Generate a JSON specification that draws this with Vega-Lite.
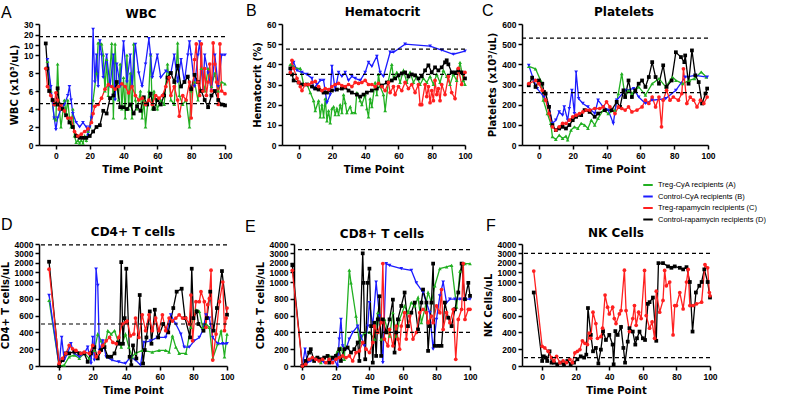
{
"$schema":"https://vega.github.io/schema/vega-lite/v6.json",
"background":"white",
"padding":{"left":0,"top":3,"right":0,"bottom":0},
"config":{
 "view":{"stroke":null},
 "font":"Liberation Sans",
 "axis":{"grid":false,"labelOverlap":false,"tickCount":20,"domainColor":"#000","domainWidth":1.5,"tickColor":"#000","tickWidth":1.5,"tickSize":4,"labelFont":"Liberation Sans","labelFontWeight":"bold","labelFontSize":8.5,"labelColor":"#000","titleFont":"DejaVu Sans","titleFontWeight":"bold","titleFontSize":10,"titleColor":"#000"},
 "axisX":{"titlePadding":5,"labelFlush":false},
 "axisY":{"titlePadding":4,"labelPadding":2},
 "title":{"font":"DejaVu Sans","fontSize":12,"fontWeight":"bold","color":"#000","anchor":"middle","frame":"group"},
 "legend":{"orient":"none","legendX":603,"legendY":155,"title":null,"symbolType":"stroke","symbolStrokeWidth":2,"symbolSize":90,"labelFont":"Liberation Sans","labelFontSize":7.5,"labelColor":"#000","rowPadding":1.5}
},
"datasets":{
"wbc":[
{"s":"A","x":-5,"y":9.3},{"s":"A","x":-3,"y":6},{"s":"A","x":-1,"y":3},{"s":"A","x":0,"y":2.8},{"s":"A","x":1,"y":9},{"s":"A","x":2,"y":4},{"s":"A","x":3,"y":2},{"s":"A","x":5,"y":5},{"s":"A","x":6,"y":3.5},{"s":"A","x":7,"y":5},{"s":"A","x":8,"y":3},{"s":"A","x":9,"y":2},{"s":"A","x":10,"y":4},{"s":"A","x":11,"y":1},{"s":"A","x":12,"y":0.3},{"s":"A","x":13,"y":0.5},{"s":"A","x":14,"y":0.2},{"s":"A","x":15,"y":0.5},{"s":"A","x":16,"y":0.2},{"s":"A","x":17,"y":1},{"s":"A","x":18,"y":0.5},{"s":"A","x":19,"y":1.5},{"s":"A","x":20,"y":2},{"s":"A","x":22,"y":5},{"s":"A","x":24,"y":8},{"s":"A","x":25,"y":12},{"s":"A","x":27,"y":11},{"s":"A","x":28,"y":10},{"s":"A","x":29,"y":6},{"s":"A","x":30,"y":9.5},{"s":"A","x":31,"y":5.5},{"s":"A","x":33,"y":11.5},{"s":"A","x":34,"y":3},{"s":"A","x":35,"y":11},{"s":"A","x":36,"y":7},{"s":"A","x":37,"y":5},{"s":"A","x":38,"y":9},{"s":"A","x":39,"y":4},{"s":"A","x":40,"y":7.5},{"s":"A","x":41,"y":3},{"s":"A","x":42,"y":10},{"s":"A","x":43,"y":4},{"s":"A","x":44,"y":8},{"s":"A","x":45,"y":3},{"s":"A","x":46,"y":11},{"s":"A","x":47,"y":5},{"s":"A","x":48,"y":4},{"s":"A","x":50,"y":6},{"s":"A","x":51,"y":3},{"s":"A","x":52,"y":5},{"s":"A","x":53,"y":2},{"s":"A","x":55,"y":6},{"s":"A","x":56,"y":10},{"s":"A","x":57,"y":4},{"s":"A","x":58,"y":6},{"s":"A","x":60,"y":4},{"s":"A","x":62,"y":5},{"s":"A","x":64,"y":4.5},{"s":"A","x":66,"y":9},{"s":"A","x":68,"y":5},{"s":"A","x":70,"y":4.5},{"s":"A","x":72,"y":12},{"s":"A","x":73,"y":5.5},{"s":"A","x":75,"y":4.5},{"s":"A","x":77,"y":5},{"s":"A","x":79,"y":2},{"s":"A","x":80,"y":6},{"s":"A","x":82,"y":7},{"s":"A","x":84,"y":5},{"s":"A","x":86,"y":8.5},{"s":"A","x":88,"y":6},{"s":"A","x":90,"y":8.5},{"s":"A","x":92,"y":6.5},{"s":"A","x":94,"y":8},{"s":"A","x":96,"y":6},{"s":"A","x":98,"y":7},{"s":"A","x":100,"y":6.8},
{"s":"B","x":-5,"y":9.5},{"s":"B","x":-3,"y":6.5},{"s":"B","x":-1,"y":3},{"s":"B","x":0,"y":1.7},{"s":"B","x":1,"y":3},{"s":"B","x":3,"y":4},{"s":"B","x":5,"y":4.5},{"s":"B","x":7,"y":5.5},{"s":"B","x":8,"y":6.5},{"s":"B","x":9,"y":5},{"s":"B","x":10,"y":3.5},{"s":"B","x":12,"y":2.5},{"s":"B","x":14,"y":2},{"s":"B","x":16,"y":2.5},{"s":"B","x":18,"y":2},{"s":"B","x":19,"y":1},{"s":"B","x":20,"y":2},{"s":"B","x":21,"y":3},{"s":"B","x":22,"y":25},{"s":"B","x":23,"y":7},{"s":"B","x":24,"y":10},{"s":"B","x":25,"y":6.5},{"s":"B","x":26,"y":14},{"s":"B","x":27,"y":10},{"s":"B","x":28,"y":7.5},{"s":"B","x":30,"y":10},{"s":"B","x":32,"y":6.5},{"s":"B","x":34,"y":10},{"s":"B","x":35,"y":5},{"s":"B","x":36,"y":9},{"s":"B","x":38,"y":6.5},{"s":"B","x":40,"y":13},{"s":"B","x":42,"y":7},{"s":"B","x":44,"y":10},{"s":"B","x":45,"y":6.5},{"s":"B","x":47,"y":10.5},{"s":"B","x":49,"y":8},{"s":"B","x":51,"y":6.5},{"s":"B","x":53,"y":9},{"s":"B","x":55,"y":16},{"s":"B","x":56,"y":10},{"s":"B","x":57,"y":7.5},{"s":"B","x":60,"y":10},{"s":"B","x":62,"y":7.5},{"s":"B","x":65,"y":8.2},{"s":"B","x":68,"y":8},{"s":"B","x":70,"y":10},{"s":"B","x":72,"y":7},{"s":"B","x":74,"y":9.5},{"s":"B","x":76,"y":7},{"s":"B","x":78,"y":10},{"s":"B","x":79,"y":13},{"s":"B","x":80,"y":10},{"s":"B","x":82,"y":6.5},{"s":"B","x":84,"y":10},{"s":"B","x":85,"y":13},{"s":"B","x":87,"y":6},{"s":"B","x":88,"y":10},{"s":"B","x":90,"y":8},{"s":"B","x":92,"y":6},{"s":"B","x":94,"y":10},{"s":"B","x":96,"y":6.5},{"s":"B","x":98,"y":10},{"s":"B","x":100,"y":10},
{"s":"D","x":-6,"y":11.5},{"s":"D","x":-5,"y":8.5},{"s":"D","x":-4,"y":6},{"s":"D","x":-2,"y":5},{"s":"D","x":0,"y":4.5},{"s":"D","x":1,"y":6.3},{"s":"D","x":2,"y":4.5},{"s":"D","x":4,"y":4},{"s":"D","x":6,"y":3.3},{"s":"D","x":8,"y":2.5},{"s":"D","x":10,"y":2},{"s":"D","x":12,"y":1},{"s":"D","x":14,"y":0.8},{"s":"D","x":16,"y":0.8},{"s":"D","x":18,"y":0.8},{"s":"D","x":20,"y":1},{"s":"D","x":22,"y":1.5},{"s":"D","x":24,"y":2},{"s":"D","x":26,"y":2.2},{"s":"D","x":28,"y":3.8},{"s":"D","x":30,"y":3.5},{"s":"D","x":32,"y":5.2},{"s":"D","x":34,"y":5.5},{"s":"D","x":36,"y":7},{"s":"D","x":38,"y":4.2},{"s":"D","x":40,"y":4.2},{"s":"D","x":42,"y":4},{"s":"D","x":44,"y":4.5},{"s":"D","x":46,"y":3.5},{"s":"D","x":48,"y":4.3},{"s":"D","x":50,"y":3.8},{"s":"D","x":52,"y":5.3},{"s":"D","x":54,"y":4.5},{"s":"D","x":56,"y":5.7},{"s":"D","x":58,"y":4},{"s":"D","x":60,"y":5},{"s":"D","x":62,"y":4.5},{"s":"D","x":64,"y":5.5},{"s":"D","x":66,"y":7.5},{"s":"D","x":68,"y":8},{"s":"D","x":70,"y":7},{"s":"D","x":72,"y":8.8},{"s":"D","x":74,"y":6.5},{"s":"D","x":76,"y":7},{"s":"D","x":78,"y":7.6},{"s":"D","x":80,"y":6.2},{"s":"D","x":82,"y":7.8},{"s":"D","x":84,"y":7},{"s":"D","x":86,"y":6},{"s":"D","x":88,"y":5},{"s":"D","x":90,"y":4.2},{"s":"D","x":92,"y":5.5},{"s":"D","x":94,"y":6},{"s":"D","x":96,"y":5},{"s":"D","x":98,"y":4.5},{"s":"D","x":100,"y":4.4},
{"s":"C","x":-6,"y":8.5},{"s":"C","x":-5,"y":6.5},{"s":"C","x":-3,"y":5.5},{"s":"C","x":-1,"y":4.5},{"s":"C","x":0,"y":5.8},{"s":"C","x":1,"y":5},{"s":"C","x":2,"y":4},{"s":"C","x":3,"y":4.5},{"s":"C","x":5,"y":3.8},{"s":"C","x":7,"y":3},{"s":"C","x":9,"y":3},{"s":"C","x":11,"y":1.5},{"s":"C","x":13,"y":1},{"s":"C","x":15,"y":1.2},{"s":"C","x":17,"y":1.5},{"s":"C","x":19,"y":1.8},{"s":"C","x":21,"y":2.5},{"s":"C","x":22,"y":3.5},{"s":"C","x":23,"y":4.3},{"s":"C","x":25,"y":4.5},{"s":"C","x":27,"y":5.2},{"s":"C","x":29,"y":6.2},{"s":"C","x":31,"y":6.7},{"s":"C","x":33,"y":6.5},{"s":"C","x":35,"y":6.2},{"s":"C","x":37,"y":6.5},{"s":"C","x":39,"y":6.8},{"s":"C","x":41,"y":6.5},{"s":"C","x":43,"y":5.8},{"s":"C","x":45,"y":6.5},{"s":"C","x":47,"y":5.5},{"s":"C","x":49,"y":5},{"s":"C","x":51,"y":5.2},{"s":"C","x":53,"y":4.5},{"s":"C","x":55,"y":5},{"s":"C","x":57,"y":4.5},{"s":"C","x":59,"y":5.5},{"s":"C","x":61,"y":5.2},{"s":"C","x":63,"y":5.5},{"s":"C","x":65,"y":6.5},{"s":"C","x":67,"y":7.5},{"s":"C","x":68,"y":5.5},{"s":"C","x":70,"y":6.5},{"s":"C","x":72,"y":5},{"s":"C","x":73,"y":3.2},{"s":"C","x":75,"y":5.5},{"s":"C","x":77,"y":5},{"s":"C","x":79,"y":7},{"s":"C","x":80,"y":3},{"s":"C","x":82,"y":9.5},{"s":"C","x":83,"y":11},{"s":"C","x":84,"y":7},{"s":"C","x":85,"y":5.5},{"s":"C","x":86,"y":11},{"s":"C","x":87,"y":6},{"s":"C","x":88,"y":8.5},{"s":"C","x":89,"y":5.5},{"s":"C","x":90,"y":7},{"s":"C","x":91,"y":9},{"s":"C","x":92,"y":6},{"s":"C","x":93,"y":12},{"s":"C","x":94,"y":9},{"s":"C","x":95,"y":7},{"s":"C","x":96,"y":4.5},{"s":"C","x":97,"y":11},{"s":"C","x":98,"y":6},{"s":"C","x":100,"y":5.7}
],
"hct":[
{"s":"A","x":-5,"y":40},{"s":"A","x":-3,"y":39},{"s":"A","x":-1,"y":38},{"s":"A","x":1,"y":38},{"s":"A","x":3,"y":30},{"s":"A","x":5,"y":30},{"s":"A","x":7,"y":26},{"s":"A","x":9,"y":22},{"s":"A","x":10,"y":17},{"s":"A","x":12,"y":22},{"s":"A","x":13,"y":14},{"s":"A","x":14,"y":20},{"s":"A","x":15,"y":14},{"s":"A","x":16,"y":23},{"s":"A","x":17,"y":12},{"s":"A","x":18,"y":17},{"s":"A","x":19,"y":11},{"s":"A","x":20,"y":18},{"s":"A","x":21,"y":19},{"s":"A","x":22,"y":15},{"s":"A","x":23,"y":18},{"s":"A","x":24,"y":15},{"s":"A","x":25,"y":20},{"s":"A","x":26,"y":16},{"s":"A","x":27,"y":25},{"s":"A","x":28,"y":21},{"s":"A","x":29,"y":16},{"s":"A","x":31,"y":19},{"s":"A","x":32,"y":16},{"s":"A","x":34,"y":16},{"s":"A","x":35,"y":26},{"s":"A","x":37,"y":22},{"s":"A","x":38,"y":20},{"s":"A","x":40,"y":25},{"s":"A","x":41,"y":18},{"s":"A","x":42,"y":14},{"s":"A","x":43,"y":23},{"s":"A","x":44,"y":19},{"s":"A","x":46,"y":31},{"s":"A","x":47,"y":25},{"s":"A","x":48,"y":35},{"s":"A","x":49,"y":29},{"s":"A","x":51,"y":25},{"s":"A","x":52,"y":17},{"s":"A","x":54,"y":32},{"s":"A","x":56,"y":40},{"s":"A","x":57,"y":33},{"s":"A","x":59,"y":36},{"s":"A","x":61,"y":31},{"s":"A","x":63,"y":37},{"s":"A","x":65,"y":31},{"s":"A","x":67,"y":36},{"s":"A","x":69,"y":31},{"s":"A","x":71,"y":34},{"s":"A","x":73,"y":30},{"s":"A","x":75,"y":33},{"s":"A","x":77,"y":31},{"s":"A","x":79,"y":34},{"s":"A","x":81,"y":30},{"s":"A","x":83,"y":35},{"s":"A","x":85,"y":31},{"s":"A","x":87,"y":37},{"s":"A","x":89,"y":34},{"s":"A","x":91,"y":30},{"s":"A","x":93,"y":35},{"s":"A","x":95,"y":32},{"s":"A","x":97,"y":41},{"s":"A","x":99,"y":32},{"s":"A","x":100,"y":30},
{"s":"B","x":-5,"y":37},{"s":"B","x":-3,"y":41},{"s":"B","x":-1,"y":37},{"s":"B","x":2,"y":36},{"s":"B","x":5,"y":35},{"s":"B","x":8,"y":33},{"s":"B","x":9,"y":28},{"s":"B","x":11,"y":30},{"s":"B","x":13,"y":32},{"s":"B","x":15,"y":32},{"s":"B","x":17,"y":21},{"s":"B","x":19,"y":25},{"s":"B","x":20,"y":39},{"s":"B","x":22,"y":27},{"s":"B","x":24,"y":36},{"s":"B","x":26,"y":34},{"s":"B","x":28,"y":36},{"s":"B","x":30,"y":32},{"s":"B","x":32,"y":34},{"s":"B","x":34,"y":33},{"s":"B","x":37,"y":32},{"s":"B","x":40,"y":36},{"s":"B","x":42,"y":41},{"s":"B","x":44,"y":39},{"s":"B","x":47,"y":44},{"s":"B","x":49,"y":36},{"s":"B","x":51,"y":34},{"s":"B","x":55,"y":46},{"s":"B","x":57,"y":46},{"s":"B","x":64,"y":50},{"s":"B","x":79,"y":49},{"s":"B","x":86,"y":47},{"s":"B","x":93,"y":45},{"s":"B","x":100,"y":46.5},
{"s":"D","x":-5,"y":38},{"s":"D","x":-4,"y":35},{"s":"D","x":-3,"y":32},{"s":"D","x":0,"y":31},{"s":"D","x":2,"y":30},{"s":"D","x":5,"y":30},{"s":"D","x":8,"y":29},{"s":"D","x":10,"y":28},{"s":"D","x":12,"y":27.5},{"s":"D","x":15,"y":26},{"s":"D","x":17,"y":26},{"s":"D","x":20,"y":27},{"s":"D","x":23,"y":27.5},{"s":"D","x":26,"y":28},{"s":"D","x":28,"y":28.5},{"s":"D","x":30,"y":27},{"s":"D","x":32,"y":26},{"s":"D","x":35,"y":25},{"s":"D","x":37,"y":24},{"s":"D","x":39,"y":25},{"s":"D","x":41,"y":26},{"s":"D","x":44,"y":27},{"s":"D","x":47,"y":28},{"s":"D","x":50,"y":29.5},{"s":"D","x":53,"y":31},{"s":"D","x":56,"y":32},{"s":"D","x":58,"y":33},{"s":"D","x":60,"y":34.5},{"s":"D","x":62,"y":35.5},{"s":"D","x":64,"y":36},{"s":"D","x":66,"y":34},{"s":"D","x":68,"y":35},{"s":"D","x":70,"y":34.5},{"s":"D","x":72,"y":33},{"s":"D","x":74,"y":34},{"s":"D","x":76,"y":37},{"s":"D","x":78,"y":39.5},{"s":"D","x":80,"y":36},{"s":"D","x":82,"y":38.5},{"s":"D","x":84,"y":37},{"s":"D","x":86,"y":38.5},{"s":"D","x":88,"y":41},{"s":"D","x":89,"y":42},{"s":"D","x":90,"y":40},{"s":"D","x":92,"y":36},{"s":"D","x":94,"y":36},{"s":"D","x":96,"y":37},{"s":"D","x":98,"y":36},{"s":"D","x":100,"y":33},
{"s":"C","x":-5,"y":36},{"s":"C","x":-4,"y":42},{"s":"C","x":-3,"y":38},{"s":"C","x":-1,"y":33},{"s":"C","x":0,"y":31},{"s":"C","x":1,"y":29},{"s":"C","x":2,"y":27},{"s":"C","x":4,"y":30},{"s":"C","x":6,"y":30},{"s":"C","x":8,"y":31},{"s":"C","x":10,"y":31.5},{"s":"C","x":12,"y":29},{"s":"C","x":14,"y":27},{"s":"C","x":16,"y":28},{"s":"C","x":18,"y":27.5},{"s":"C","x":20,"y":29},{"s":"C","x":22,"y":30},{"s":"C","x":24,"y":30.5},{"s":"C","x":26,"y":29.5},{"s":"C","x":28,"y":29},{"s":"C","x":30,"y":30},{"s":"C","x":32,"y":29},{"s":"C","x":34,"y":31},{"s":"C","x":36,"y":30.5},{"s":"C","x":38,"y":31},{"s":"C","x":40,"y":32},{"s":"C","x":42,"y":30},{"s":"C","x":44,"y":30},{"s":"C","x":46,"y":29},{"s":"C","x":48,"y":30.5},{"s":"C","x":50,"y":29},{"s":"C","x":52,"y":27},{"s":"C","x":54,"y":31},{"s":"C","x":55,"y":26},{"s":"C","x":57,"y":29},{"s":"C","x":58,"y":25},{"s":"C","x":60,"y":29},{"s":"C","x":62,"y":27},{"s":"C","x":64,"y":31},{"s":"C","x":66,"y":28},{"s":"C","x":68,"y":30},{"s":"C","x":70,"y":26},{"s":"C","x":72,"y":30},{"s":"C","x":73,"y":20},{"s":"C","x":74,"y":20},{"s":"C","x":76,"y":30},{"s":"C","x":77,"y":24},{"s":"C","x":78,"y":29},{"s":"C","x":79,"y":21},{"s":"C","x":80,"y":27},{"s":"C","x":81,"y":22},{"s":"C","x":82,"y":32},{"s":"C","x":83,"y":25},{"s":"C","x":84,"y":28},{"s":"C","x":85,"y":22},{"s":"C","x":86,"y":30},{"s":"C","x":88,"y":25},{"s":"C","x":90,"y":34},{"s":"C","x":92,"y":26},{"s":"C","x":94,"y":23},{"s":"C","x":96,"y":38},{"s":"C","x":98,"y":30},{"s":"C","x":100,"y":36}
],
"plt":[
{"s":"A","x":-6,"y":390},{"s":"A","x":-2,"y":378},{"s":"A","x":1,"y":320},{"s":"A","x":2.6,"y":222},{"s":"A","x":5,"y":156},{"s":"A","x":7,"y":107},{"s":"A","x":8,"y":41},{"s":"A","x":10,"y":28},{"s":"A","x":12,"y":49},{"s":"A","x":14,"y":33},{"s":"A","x":16,"y":44},{"s":"A","x":17,"y":25},{"s":"A","x":19,"y":74},{"s":"A","x":21,"y":90},{"s":"A","x":23,"y":82},{"s":"A","x":25,"y":107},{"s":"A","x":27,"y":99},{"s":"A","x":29,"y":82},{"s":"A","x":31,"y":123},{"s":"A","x":33,"y":99},{"s":"A","x":35,"y":132},{"s":"A","x":38,"y":173},{"s":"A","x":41,"y":156},{"s":"A","x":45,"y":173},{"s":"A","x":47,"y":255},{"s":"A","x":49,"y":354},{"s":"A","x":51,"y":238},{"s":"A","x":53,"y":271},{"s":"A","x":55,"y":255},{"s":"A","x":59,"y":288},{"s":"A","x":63,"y":247},{"s":"A","x":67,"y":304},{"s":"A","x":71,"y":329},{"s":"A","x":75,"y":288},{"s":"A","x":79,"y":337},{"s":"A","x":81,"y":321},{"s":"A","x":85,"y":304},{"s":"A","x":89,"y":321},{"s":"A","x":92,"y":329},{"s":"A","x":96,"y":362},{"s":"A","x":99,"y":337},
{"s":"B","x":-6,"y":395},{"s":"B","x":-3,"y":320},{"s":"B","x":-1,"y":280},{"s":"B","x":3,"y":238},{"s":"B","x":6,"y":189},{"s":"B","x":8,"y":107},{"s":"B","x":10,"y":123},{"s":"B","x":12,"y":164},{"s":"B","x":14,"y":148},{"s":"B","x":15,"y":189},{"s":"B","x":17,"y":123},{"s":"B","x":18,"y":181},{"s":"B","x":19.5,"y":271},{"s":"B","x":21,"y":156},{"s":"B","x":22,"y":362},{"s":"B","x":23.5,"y":230},{"s":"B","x":26,"y":206},{"s":"B","x":29,"y":189},{"s":"B","x":33,"y":156},{"s":"B","x":35,"y":222},{"s":"B","x":38,"y":189},{"s":"B","x":41,"y":173},{"s":"B","x":44,"y":107},{"s":"B","x":46,"y":222},{"s":"B","x":51,"y":271},{"s":"B","x":56,"y":280},{"s":"B","x":59,"y":238},{"s":"B","x":63,"y":206},{"s":"B","x":67,"y":222},{"s":"B","x":75,"y":230},{"s":"B","x":81,"y":271},{"s":"B","x":86.5,"y":337},{"s":"B","x":92.5,"y":345},{"s":"B","x":99.5,"y":337},
{"s":"D","x":-6,"y":296},{"s":"D","x":-4,"y":334},{"s":"D","x":-2,"y":288},{"s":"D","x":0,"y":320},{"s":"D","x":2,"y":304},{"s":"D","x":3,"y":263},{"s":"D","x":4,"y":255},{"s":"D","x":6,"y":189},{"s":"D","x":8,"y":99},{"s":"D","x":10,"y":74},{"s":"D","x":12,"y":82},{"s":"D","x":14,"y":90},{"s":"D","x":16,"y":82},{"s":"D","x":18,"y":99},{"s":"D","x":20,"y":123},{"s":"D","x":22,"y":140},{"s":"D","x":25,"y":148},{"s":"D","x":27,"y":173},{"s":"D","x":30,"y":164},{"s":"D","x":33,"y":140},{"s":"D","x":35,"y":156},{"s":"D","x":39,"y":173},{"s":"D","x":43,"y":173},{"s":"D","x":46,"y":214},{"s":"D","x":48,"y":189},{"s":"D","x":50,"y":271},{"s":"D","x":51,"y":238},{"s":"D","x":53,"y":320},{"s":"D","x":55,"y":238},{"s":"D","x":57,"y":271},{"s":"D","x":59,"y":304},{"s":"D","x":61,"y":320},{"s":"D","x":63,"y":288},{"s":"D","x":65,"y":337},{"s":"D","x":67,"y":411},{"s":"D","x":69,"y":337},{"s":"D","x":71,"y":304},{"s":"D","x":73.5,"y":395},{"s":"D","x":75.5,"y":288},{"s":"D","x":78.5,"y":320},{"s":"D","x":81,"y":460},{"s":"D","x":84,"y":436},{"s":"D","x":86,"y":411},{"s":"D","x":86.5,"y":444},{"s":"D","x":88.5,"y":304},{"s":"D","x":90.5,"y":469},{"s":"D","x":92.5,"y":345},{"s":"D","x":94.5,"y":312},{"s":"D","x":96.5,"y":206},{"s":"D","x":98.5,"y":255},{"s":"D","x":99.5,"y":280},
{"s":"C","x":-6,"y":304},{"s":"C","x":-2,"y":320},{"s":"C","x":0,"y":304},{"s":"C","x":2,"y":271},{"s":"C","x":4,"y":222},{"s":"C","x":6,"y":156},{"s":"C","x":8,"y":90},{"s":"C","x":10,"y":74},{"s":"C","x":12,"y":90},{"s":"C","x":14,"y":107},{"s":"C","x":16,"y":107},{"s":"C","x":18,"y":123},{"s":"C","x":20,"y":140},{"s":"C","x":22,"y":148},{"s":"C","x":24,"y":156},{"s":"C","x":26,"y":164},{"s":"C","x":28,"y":173},{"s":"C","x":30,"y":173},{"s":"C","x":33,"y":181},{"s":"C","x":36,"y":181},{"s":"C","x":38,"y":189},{"s":"C","x":40,"y":214},{"s":"C","x":42,"y":189},{"s":"C","x":45,"y":156},{"s":"C","x":47,"y":189},{"s":"C","x":49,"y":181},{"s":"C","x":51,"y":173},{"s":"C","x":53,"y":189},{"s":"C","x":55,"y":164},{"s":"C","x":58,"y":173},{"s":"C","x":61,"y":189},{"s":"C","x":63,"y":222},{"s":"C","x":65,"y":206},{"s":"C","x":67,"y":238},{"s":"C","x":69,"y":189},{"s":"C","x":71,"y":238},{"s":"C","x":72.5,"y":90},{"s":"C","x":73.5,"y":222},{"s":"C","x":75.5,"y":271},{"s":"C","x":77.5,"y":222},{"s":"C","x":79.5,"y":238},{"s":"C","x":82.5,"y":222},{"s":"C","x":84.5,"y":255},{"s":"C","x":85.5,"y":378},{"s":"C","x":87.5,"y":206},{"s":"C","x":89.5,"y":238},{"s":"C","x":91.5,"y":222},{"s":"C","x":93.5,"y":189},{"s":"C","x":95.5,"y":222},{"s":"C","x":97.5,"y":206},{"s":"C","x":99.5,"y":238}
],
"cd4":[
{"s":"A","x":-6,"y":780},{"s":"A","x":0,"y":0},{"s":"A","x":3,"y":10},{"s":"A","x":6,"y":110},{"s":"A","x":9,"y":130},{"s":"A","x":12,"y":90},{"s":"A","x":15,"y":150},{"s":"A","x":18,"y":90},{"s":"A","x":21,"y":185},{"s":"A","x":23,"y":380},{"s":"A","x":25,"y":300},{"s":"A","x":27,"y":225},{"s":"A","x":29,"y":420},{"s":"A","x":31,"y":380},{"s":"A","x":33,"y":420},{"s":"A","x":35,"y":300},{"s":"A","x":37,"y":225},{"s":"A","x":39.5,"y":380},{"s":"A","x":41.5,"y":225},{"s":"A","x":43.5,"y":110},{"s":"A","x":45.5,"y":150},{"s":"A","x":49.5,"y":185},{"s":"A","x":55.5,"y":165},{"s":"A","x":59.5,"y":185},{"s":"A","x":63.5,"y":185},{"s":"A","x":65.5,"y":165},{"s":"A","x":67.5,"y":360},{"s":"A","x":69.5,"y":225},{"s":"A","x":71.5,"y":150},{"s":"A","x":75.5,"y":150},{"s":"A","x":78.5,"y":460},{"s":"A","x":81.5,"y":670},{"s":"A","x":83.5,"y":650},{"s":"A","x":85.5,"y":460},{"s":"A","x":87.5,"y":500},{"s":"A","x":89.5,"y":460},{"s":"A","x":91.5,"y":90},{"s":"A","x":94.5,"y":265},{"s":"A","x":96.5,"y":420},{"s":"A","x":98.5,"y":110},{"s":"A","x":100,"y":380},
{"s":"B","x":-6,"y":840},{"s":"B","x":0,"y":0},{"s":"B","x":1.5,"y":340},{"s":"B","x":3,"y":70},{"s":"B","x":5,"y":150},{"s":"B","x":7,"y":265},{"s":"B","x":9,"y":150},{"s":"B","x":12,"y":110},{"s":"B","x":15,"y":150},{"s":"B","x":17,"y":225},{"s":"B","x":19,"y":30},{"s":"B","x":20,"y":340},{"s":"B","x":21,"y":70},{"s":"B","x":22,"y":1300},{"s":"B","x":23,"y":960},{"s":"B","x":24,"y":185},{"s":"B","x":26,"y":300},{"s":"B","x":28,"y":110},{"s":"B","x":31.5,"y":70},{"s":"B","x":35.5,"y":50},{"s":"B","x":39.5,"y":30},{"s":"B","x":42.5,"y":110},{"s":"B","x":45.5,"y":70},{"s":"B","x":48.5,"y":10},{"s":"B","x":50.5,"y":280},{"s":"B","x":54.5,"y":300},{"s":"B","x":58.5,"y":340},{"s":"B","x":63.5,"y":340},{"s":"B","x":66.5,"y":610},{"s":"B","x":69.5,"y":500},{"s":"B","x":72.5,"y":380},{"s":"B","x":74.5,"y":225},{"s":"B","x":77.5,"y":225},{"s":"B","x":80.5,"y":300},{"s":"B","x":83.5,"y":340},{"s":"B","x":85.5,"y":420},{"s":"B","x":87.5,"y":610},{"s":"B","x":89.5,"y":570},{"s":"B","x":91.5,"y":340},{"s":"B","x":94.5,"y":265},{"s":"B","x":97.5,"y":265},{"s":"B","x":100,"y":265},
{"s":"D","x":-6,"y":2100},{"s":"D","x":0,"y":0},{"s":"D","x":2,"y":70},{"s":"D","x":4,"y":150},{"s":"D","x":6,"y":150},{"s":"D","x":9,"y":170},{"s":"D","x":12,"y":150},{"s":"D","x":15,"y":150},{"s":"D","x":17,"y":50},{"s":"D","x":19,"y":150},{"s":"D","x":21,"y":225},{"s":"D","x":23,"y":90},{"s":"D","x":25,"y":190},{"s":"D","x":27,"y":225},{"s":"D","x":29,"y":110},{"s":"D","x":31,"y":110},{"s":"D","x":33,"y":150},{"s":"D","x":35,"y":280},{"s":"D","x":36,"y":265},{"s":"D","x":37,"y":2060},{"s":"D","x":38,"y":265},{"s":"D","x":39,"y":570},{"s":"D","x":40,"y":1350},{"s":"D","x":42,"y":110},{"s":"D","x":43,"y":10},{"s":"D","x":44,"y":245},{"s":"D","x":46,"y":90},{"s":"D","x":48,"y":845},{"s":"D","x":50,"y":30},{"s":"D","x":51,"y":190},{"s":"D","x":52,"y":340},{"s":"D","x":54,"y":650},{"s":"D","x":55,"y":265},{"s":"D","x":57,"y":670},{"s":"D","x":59,"y":340},{"s":"D","x":62,"y":500},{"s":"D","x":65,"y":400},{"s":"D","x":68,"y":690},{"s":"D","x":70,"y":885},{"s":"D","x":73,"y":920},{"s":"D","x":75,"y":570},{"s":"D","x":78,"y":340},{"s":"D","x":79,"y":1350},{"s":"D","x":80,"y":570},{"s":"D","x":82,"y":650},{"s":"D","x":83,"y":500},{"s":"D","x":86,"y":420},{"s":"D","x":88,"y":570},{"s":"D","x":90,"y":885},{"s":"D","x":92,"y":420},{"s":"D","x":94,"y":690},{"s":"D","x":97,"y":1100},{"s":"D","x":100,"y":610},
{"s":"C","x":-6,"y":1300},{"s":"C","x":0,"y":30},{"s":"C","x":2,"y":90},{"s":"C","x":4,"y":150},{"s":"C","x":6,"y":245},{"s":"C","x":8,"y":205},{"s":"C","x":10,"y":185},{"s":"C","x":13,"y":150},{"s":"C","x":15,"y":165},{"s":"C","x":18,"y":150},{"s":"C","x":20,"y":245},{"s":"C","x":22,"y":110},{"s":"C","x":24,"y":165},{"s":"C","x":26,"y":245},{"s":"C","x":28,"y":300},{"s":"C","x":30,"y":340},{"s":"C","x":32,"y":280},{"s":"C","x":34,"y":265},{"s":"C","x":35.5,"y":340},{"s":"C","x":37.5,"y":500},{"s":"C","x":39.5,"y":515},{"s":"C","x":40.5,"y":535},{"s":"C","x":42.5,"y":360},{"s":"C","x":44.5,"y":380},{"s":"C","x":45.5,"y":570},{"s":"C","x":47.5,"y":340},{"s":"C","x":49.5,"y":610},{"s":"C","x":51.5,"y":420},{"s":"C","x":53.5,"y":610},{"s":"C","x":55.5,"y":420},{"s":"C","x":57.5,"y":570},{"s":"C","x":59.5,"y":420},{"s":"C","x":61.5,"y":610},{"s":"C","x":63.5,"y":420},{"s":"C","x":65.5,"y":570},{"s":"C","x":67.5,"y":535},{"s":"C","x":69.5,"y":570},{"s":"C","x":71.5,"y":610},{"s":"C","x":73.5,"y":570},{"s":"C","x":75.5,"y":570},{"s":"C","x":77.5,"y":500},{"s":"C","x":78.5,"y":845},{"s":"C","x":79.5,"y":300},{"s":"C","x":81.5,"y":765},{"s":"C","x":83.5,"y":765},{"s":"C","x":84.5,"y":885},{"s":"C","x":86.5,"y":765},{"s":"C","x":87.5,"y":460},{"s":"C","x":88.5,"y":730},{"s":"C","x":89.5,"y":805},{"s":"C","x":90.5,"y":1200},{"s":"C","x":91.5,"y":70},{"s":"C","x":93.5,"y":380},{"s":"C","x":95.5,"y":765},{"s":"C","x":97.5,"y":1000},{"s":"C","x":98.5,"y":420},{"s":"C","x":99.5,"y":570},{"s":"C","x":100,"y":690}
],
"cd8":[
{"s":"A","x":0,"y":0},{"s":"A","x":2,"y":20},{"s":"A","x":5,"y":80},{"s":"A","x":8,"y":100},{"s":"A","x":11,"y":40},{"s":"A","x":13,"y":100},{"s":"A","x":16,"y":120},{"s":"A","x":19,"y":100},{"s":"A","x":21,"y":180},{"s":"A","x":23,"y":220},{"s":"A","x":25,"y":80},{"s":"A","x":28,"y":1200},{"s":"A","x":29,"y":990},{"s":"A","x":32,"y":595},{"s":"A","x":34,"y":280},{"s":"A","x":37,"y":400},{"s":"A","x":40,"y":400},{"s":"A","x":43,"y":320},{"s":"A","x":45,"y":635},{"s":"A","x":47,"y":320},{"s":"A","x":49,"y":555},{"s":"A","x":52,"y":355},{"s":"A","x":54,"y":635},{"s":"A","x":56,"y":355},{"s":"A","x":58,"y":555},{"s":"A","x":61,"y":715},{"s":"A","x":63,"y":635},{"s":"A","x":65,"y":755},{"s":"A","x":67,"y":715},{"s":"A","x":69,"y":815},{"s":"A","x":71,"y":515},{"s":"A","x":73,"y":675},{"s":"A","x":75,"y":875},{"s":"A","x":77,"y":755},{"s":"A","x":79,"y":955},{"s":"A","x":82,"y":1360},{"s":"A","x":86,"y":1540},{"s":"A","x":89,"y":1720},{"s":"A","x":92,"y":700},{"s":"A","x":94,"y":1100},{"s":"A","x":97,"y":1900},{"s":"A","x":100,"y":1900},
{"s":"B","x":0,"y":0},{"s":"B","x":1.6,"y":200},{"s":"B","x":3,"y":40},{"s":"B","x":5,"y":60},{"s":"B","x":7,"y":80},{"s":"B","x":10,"y":80},{"s":"B","x":13,"y":40},{"s":"B","x":16,"y":60},{"s":"B","x":19,"y":80},{"s":"B","x":21,"y":0},{"s":"B","x":22,"y":320},{"s":"B","x":23,"y":555},{"s":"B","x":24,"y":240},{"s":"B","x":26,"y":200},{"s":"B","x":28,"y":320},{"s":"B","x":30,"y":400},{"s":"B","x":33,"y":475},{"s":"B","x":35,"y":355},{"s":"B","x":37,"y":240},{"s":"B","x":39,"y":475},{"s":"B","x":40,"y":755},{"s":"B","x":42,"y":475},{"s":"B","x":44,"y":1000},{"s":"B","x":46,"y":595},{"s":"B","x":48,"y":40},{"s":"B","x":50,"y":1900},{"s":"B","x":52,"y":1720},{"s":"B","x":59,"y":1360},{"s":"B","x":65,"y":1180},{"s":"B","x":68,"y":990},{"s":"B","x":72,"y":875},{"s":"B","x":76,"y":635},{"s":"B","x":78,"y":200},{"s":"B","x":80,"y":555},{"s":"B","x":82,"y":835},{"s":"B","x":84,"y":1000},{"s":"B","x":86,"y":755},{"s":"B","x":88,"y":795},{"s":"B","x":91,"y":795},{"s":"B","x":94,"y":795},{"s":"B","x":97,"y":795},{"s":"B","x":100,"y":795},
{"s":"D","x":-6,"y":1720},{"s":"D","x":0,"y":0},{"s":"D","x":2,"y":60},{"s":"D","x":4,"y":160},{"s":"D","x":5,"y":200},{"s":"D","x":7,"y":60},{"s":"D","x":9,"y":100},{"s":"D","x":11,"y":80},{"s":"D","x":13,"y":100},{"s":"D","x":15,"y":120},{"s":"D","x":16,"y":40},{"s":"D","x":18,"y":100},{"s":"D","x":20,"y":120},{"s":"D","x":22,"y":200},{"s":"D","x":23,"y":60},{"s":"D","x":25,"y":200},{"s":"D","x":27,"y":220},{"s":"D","x":29,"y":160},{"s":"D","x":31,"y":200},{"s":"D","x":33,"y":280},{"s":"D","x":34,"y":60},{"s":"D","x":36,"y":3000},{"s":"D","x":36.5,"y":990},{"s":"D","x":37.5,"y":80},{"s":"D","x":39,"y":990},{"s":"D","x":40,"y":1360},{"s":"D","x":41,"y":475},{"s":"D","x":42,"y":40},{"s":"D","x":43,"y":515},{"s":"D","x":44,"y":120},{"s":"D","x":45,"y":555},{"s":"D","x":46,"y":830},{"s":"D","x":47,"y":120},{"s":"D","x":48,"y":555},{"s":"D","x":50,"y":400},{"s":"D","x":52,"y":555},{"s":"D","x":54,"y":790},{"s":"D","x":55,"y":160},{"s":"D","x":56,"y":400},{"s":"D","x":57,"y":555},{"s":"D","x":59,"y":715},{"s":"D","x":61,"y":875},{"s":"D","x":63,"y":475},{"s":"D","x":65,"y":635},{"s":"D","x":67,"y":755},{"s":"D","x":69,"y":435},{"s":"D","x":71,"y":755},{"s":"D","x":72,"y":910},{"s":"D","x":74,"y":755},{"s":"D","x":75,"y":180},{"s":"D","x":76,"y":475},{"s":"D","x":77,"y":755},{"s":"D","x":78,"y":1900},{"s":"D","x":79,"y":240},{"s":"D","x":81,"y":240},{"s":"D","x":83,"y":240},{"s":"D","x":85,"y":755},{"s":"D","x":87,"y":575},{"s":"D","x":89,"y":475},{"s":"D","x":91,"y":675},{"s":"D","x":93,"y":875},{"s":"D","x":95,"y":1900},{"s":"D","x":97,"y":795},{"s":"D","x":99,"y":990},{"s":"D","x":100,"y":835},
{"s":"C","x":-6,"y":1180},{"s":"C","x":0,"y":0},{"s":"C","x":2,"y":20},{"s":"C","x":4,"y":80},{"s":"C","x":6,"y":100},{"s":"C","x":8,"y":80},{"s":"C","x":10,"y":60},{"s":"C","x":12,"y":80},{"s":"C","x":14,"y":40},{"s":"C","x":16,"y":80},{"s":"C","x":18,"y":40},{"s":"C","x":20,"y":80},{"s":"C","x":22,"y":100},{"s":"C","x":24,"y":120},{"s":"C","x":26,"y":100},{"s":"C","x":28,"y":120},{"s":"C","x":30,"y":60},{"s":"C","x":32,"y":160},{"s":"C","x":34,"y":180},{"s":"C","x":36,"y":280},{"s":"C","x":38,"y":200},{"s":"C","x":40,"y":160},{"s":"C","x":42,"y":280},{"s":"C","x":43,"y":475},{"s":"C","x":45,"y":400},{"s":"C","x":47,"y":515},{"s":"C","x":48,"y":1900},{"s":"C","x":49,"y":320},{"s":"C","x":51,"y":240},{"s":"C","x":52,"y":435},{"s":"C","x":54,"y":240},{"s":"C","x":56,"y":475},{"s":"C","x":57,"y":320},{"s":"C","x":58,"y":200},{"s":"C","x":59,"y":475},{"s":"C","x":61,"y":635},{"s":"C","x":62,"y":320},{"s":"C","x":64,"y":595},{"s":"C","x":66,"y":320},{"s":"C","x":68,"y":400},{"s":"C","x":70,"y":635},{"s":"C","x":72,"y":675},{"s":"C","x":74,"y":635},{"s":"C","x":75,"y":515},{"s":"C","x":77,"y":595},{"s":"C","x":78,"y":515},{"s":"C","x":80,"y":715},{"s":"C","x":82,"y":635},{"s":"C","x":83,"y":910},{"s":"C","x":84,"y":435},{"s":"C","x":86,"y":635},{"s":"C","x":88,"y":515},{"s":"C","x":90,"y":675},{"s":"C","x":91.5,"y":80},{"s":"C","x":93,"y":555},{"s":"C","x":95,"y":675},{"s":"C","x":96,"y":1900},{"s":"C","x":97,"y":555},{"s":"C","x":99,"y":675},{"s":"C","x":100,"y":675}
],
"nk":[
{"s":"D","x":-5,"y":875},{"s":"D","x":0,"y":60},{"s":"D","x":1,"y":115},{"s":"D","x":2,"y":100},{"s":"D","x":3,"y":60},{"s":"D","x":4.4,"y":175},{"s":"D","x":5.6,"y":40},{"s":"D","x":7,"y":40},{"s":"D","x":9,"y":20},{"s":"D","x":11,"y":40},{"s":"D","x":13,"y":20},{"s":"D","x":15,"y":60},{"s":"D","x":17,"y":20},{"s":"D","x":19,"y":40},{"s":"D","x":21,"y":80},{"s":"D","x":23,"y":115},{"s":"D","x":25,"y":100},{"s":"D","x":26.3,"y":135},{"s":"D","x":27.3,"y":690},{"s":"D","x":29,"y":370},{"s":"D","x":30.3,"y":175},{"s":"D","x":32,"y":215},{"s":"D","x":33.5,"y":30},{"s":"D","x":35,"y":195},{"s":"D","x":36.3,"y":415},{"s":"D","x":38,"y":310},{"s":"D","x":40,"y":370},{"s":"D","x":42,"y":255},{"s":"D","x":42.6,"y":20},{"s":"D","x":43.6,"y":415},{"s":"D","x":45,"y":370},{"s":"D","x":47,"y":465},{"s":"D","x":48.4,"y":215},{"s":"D","x":49.4,"y":40},{"s":"D","x":51,"y":290},{"s":"D","x":52,"y":450},{"s":"D","x":54,"y":410},{"s":"D","x":55.5,"y":255},{"s":"D","x":56.5,"y":330},{"s":"D","x":58,"y":410},{"s":"D","x":60,"y":330},{"s":"D","x":61.3,"y":310},{"s":"D","x":63,"y":740},{"s":"D","x":64,"y":760},{"s":"D","x":66,"y":815},{"s":"D","x":68,"y":300},{"s":"D","x":69.3,"y":1950},{"s":"D","x":72,"y":1950},{"s":"D","x":75,"y":1600},{"s":"D","x":77,"y":1450},{"s":"D","x":79,"y":1600},{"s":"D","x":82,"y":1450},{"s":"D","x":84,"y":1280},{"s":"D","x":86,"y":1520},{"s":"D","x":88,"y":1000},{"s":"D","x":89.6,"y":410},{"s":"D","x":91.6,"y":875},{"s":"D","x":93.6,"y":955},{"s":"D","x":95,"y":1000},{"s":"D","x":96.6,"y":1280},{"s":"D","x":98.6,"y":1000},{"s":"D","x":100,"y":815},
{"s":"C","x":-5,"y":1100},{"s":"C","x":0,"y":235},{"s":"C","x":1.6,"y":215},{"s":"C","x":3.6,"y":175},{"s":"C","x":5.6,"y":100},{"s":"C","x":7,"y":60},{"s":"C","x":8.6,"y":115},{"s":"C","x":10.6,"y":40},{"s":"C","x":12.5,"y":60},{"s":"C","x":14.5,"y":40},{"s":"C","x":16.5,"y":80},{"s":"C","x":18,"y":40},{"s":"C","x":19.5,"y":155},{"s":"C","x":21,"y":175},{"s":"C","x":22.5,"y":195},{"s":"C","x":24,"y":300},{"s":"C","x":25.5,"y":270},{"s":"C","x":27,"y":255},{"s":"C","x":28,"y":390},{"s":"C","x":29,"y":330},{"s":"C","x":30.3,"y":640},{"s":"C","x":32,"y":505},{"s":"C","x":33,"y":330},{"s":"C","x":35,"y":350},{"s":"C","x":36,"y":450},{"s":"C","x":37.5,"y":845},{"s":"C","x":39,"y":700},{"s":"C","x":40,"y":620},{"s":"C","x":42,"y":700},{"s":"C","x":43,"y":565},{"s":"C","x":44,"y":505},{"s":"C","x":46,"y":620},{"s":"C","x":47,"y":660},{"s":"C","x":49,"y":1200},{"s":"C","x":50,"y":660},{"s":"C","x":52,"y":410},{"s":"C","x":54,"y":565},{"s":"C","x":55,"y":720},{"s":"C","x":56,"y":485},{"s":"C","x":57.5,"y":640},{"s":"C","x":59,"y":565},{"s":"C","x":61,"y":1170},{"s":"C","x":62,"y":600},{"s":"C","x":64,"y":450},{"s":"C","x":65.5,"y":525},{"s":"C","x":67,"y":330},{"s":"C","x":68,"y":890},{"s":"C","x":70,"y":640},{"s":"C","x":72,"y":780},{"s":"C","x":73,"y":1170},{"s":"C","x":74,"y":955},{"s":"C","x":76,"y":1000},{"s":"C","x":78,"y":370},{"s":"C","x":79,"y":720},{"s":"C","x":80,"y":720},{"s":"C","x":82,"y":875},{"s":"C","x":84,"y":680},{"s":"C","x":86,"y":1000},{"s":"C","x":87,"y":1270},{"s":"C","x":88,"y":720},{"s":"C","x":90,"y":720},{"s":"C","x":92,"y":740},{"s":"C","x":95,"y":760},{"s":"C","x":97,"y":1800},{"s":"C","x":98.6,"y":1450},{"s":"C","x":99.6,"y":875},{"s":"C","x":100,"y":835}
]
},
"vconcat":[
{"hconcat":[
 {"width":186,"height":121,"title":{"text":"WBC","dx":9,"offset":-16},
  "layer":[
   {"data":{"name":"wbc"},"mark":{"type":"line","strokeWidth":1.3},
    "encoding":{"x":{"field":"x","type":"quantitative","scale":{"domain":[-10,100],"nice":false,"zero":false},"axis":{"values":[0,20,40,60,80,100],"tickCount":20,"title":"Time Point"}},
     "y":{"field":"y","type":"quantitative","scale":{"domain":[0,10,10.01,30],"range":[121,31,21,0],"nice":false,"zero":false},"axis":{"values":[0,2,4,6,8,10,10.01,20,30],"tickCount":20,"labelExpr":"format(round(datum.value),'d')","title":"WBC (x10³/uL)"}},
     "color":{"field":"s","type":"nominal","scale":{"domain":["A","B","C","D"],"range":["#22b022","#1c1cff","#ff2020","#000000"]},"legend":{"labelExpr":"datum.label=='A'?'Treg-CyA recipients (A)':datum.label=='B'?'Control-CyA recipients (B)':datum.label=='C'?'Treg-rapamycin recipients (C)':'Control-rapamycin recipients (D)'"}}}},
   {"data":{"name":"wbc"},"transform":[{"filter":"datum.s=='A'"}],"mark":{"type":"point","shape":"triangle-up","filled":true,"size":14,"opacity":1},"encoding":{"x":{"field":"x","type":"quantitative"},"y":{"field":"y","type":"quantitative"},"color":{"field":"s","type":"nominal","legend":null}}},
   {"data":{"name":"wbc"},"transform":[{"filter":"datum.s=='B'"}],"mark":{"type":"point","shape":"triangle-down","filled":true,"size":14,"opacity":1},"encoding":{"x":{"field":"x","type":"quantitative"},"y":{"field":"y","type":"quantitative"},"color":{"field":"s","type":"nominal","legend":null}}},
   {"data":{"name":"wbc"},"transform":[{"filter":"datum.s=='D'"}],"mark":{"type":"point","shape":"square","filled":true,"size":14,"opacity":1},"encoding":{"x":{"field":"x","type":"quantitative"},"y":{"field":"y","type":"quantitative"},"color":{"field":"s","type":"nominal","legend":null}}},
   {"data":{"name":"wbc"},"transform":[{"filter":"datum.s=='C'"}],"mark":{"type":"point","shape":"circle","filled":true,"size":14,"opacity":1},"encoding":{"x":{"field":"x","type":"quantitative"},"y":{"field":"y","type":"quantitative"},"color":{"field":"s","type":"nominal","legend":null}}},
   {"data":{"values":[{"v":4.6},{"v":18}]},"mark":{"type":"rule","strokeDash":[4,3],"color":"#000","strokeWidth":1.2},"encoding":{"y":{"field":"v","type":"quantitative"}}},
   {"data":{"values":[{}]},"mark":{"type":"text","text":"A","fontSize":16,"font":"Liberation Sans","align":"left","baseline":"middle"},"encoding":{"x":{"datum":-32.5},"y":{"datum":40.5}}}
  ]},
 {"width":183,"height":121,"title":{"text":"Hematocrit","dx":9,"offset":-16},
  "layer":[
   {"data":{"name":"hct"},"mark":{"type":"line","strokeWidth":1.3},
    "encoding":{"x":{"field":"x","type":"quantitative","scale":{"domain":[-10,100],"nice":false,"zero":false},"axis":{"values":[0,20,40,60,80,100],"tickCount":20,"title":"Time Point"}},
     "y":{"field":"y","type":"quantitative","scale":{"domain":[0,60],"nice":false},"axis":{"values":[0,10,20,30,40,50,60],"tickCount":20,"title":"Hematocrit (%)"}},
     "color":{"field":"s","type":"nominal","legend":{"labelExpr":"datum.label=='A'?'Treg-CyA recipients (A)':datum.label=='B'?'Control-CyA recipients (B)':datum.label=='C'?'Treg-rapamycin recipients (C)':'Control-rapamycin recipients (D)'"}}}},
   {"data":{"name":"hct"},"transform":[{"filter":"datum.s=='A'"}],"mark":{"type":"point","shape":"triangle-up","filled":true,"size":14,"opacity":1},"encoding":{"x":{"field":"x","type":"quantitative"},"y":{"field":"y","type":"quantitative"},"color":{"field":"s","type":"nominal","legend":null}}},
   {"data":{"name":"hct"},"transform":[{"filter":"datum.s=='B'"}],"mark":{"type":"point","shape":"triangle-down","filled":true,"size":14,"opacity":1},"encoding":{"x":{"field":"x","type":"quantitative"},"y":{"field":"y","type":"quantitative"},"color":{"field":"s","type":"nominal","legend":null}}},
   {"data":{"name":"hct"},"transform":[{"filter":"datum.s=='D'"}],"mark":{"type":"point","shape":"square","filled":true,"size":14,"opacity":1},"encoding":{"x":{"field":"x","type":"quantitative"},"y":{"field":"y","type":"quantitative"},"color":{"field":"s","type":"nominal","legend":null}}},
   {"data":{"name":"hct"},"transform":[{"filter":"datum.s=='C'"}],"mark":{"type":"point","shape":"circle","filled":true,"size":14,"opacity":1},"encoding":{"x":{"field":"x","type":"quantitative"},"y":{"field":"y","type":"quantitative"},"color":{"field":"s","type":"nominal","legend":null}}},
   {"data":{"values":[{"v":47.5},{"v":35}]},"mark":{"type":"rule","strokeDash":[4,3],"color":"#000","strokeWidth":1.2},"encoding":{"y":{"field":"v","type":"quantitative"}}},
   {"data":{"values":[{}]},"mark":{"type":"text","text":"B","fontSize":16,"font":"Liberation Sans","align":"left","baseline":"middle"},"encoding":{"x":{"datum":-31.6},"y":{"datum":66.4}}}
  ]},
 {"width":186,"height":121,"title":{"text":"Platelets","dx":9,"offset":-16},
  "layer":[
   {"data":{"name":"plt"},"mark":{"type":"line","strokeWidth":1.3},
    "encoding":{"x":{"field":"x","type":"quantitative","scale":{"domain":[-10,100],"nice":false,"zero":false},"axis":{"values":[0,20,40,60,80,100],"tickCount":20,"title":"Time Point"}},
     "y":{"field":"y","type":"quantitative","scale":{"domain":[0,600],"nice":false},"axis":{"values":[0,100,200,300,400,500,600],"tickCount":20,"title":"Platelets (x10³/uL)"}},
     "color":{"field":"s","type":"nominal","legend":{"labelExpr":"datum.label=='A'?'Treg-CyA recipients (A)':datum.label=='B'?'Control-CyA recipients (B)':datum.label=='C'?'Treg-rapamycin recipients (C)':'Control-rapamycin recipients (D)'"}}}},
   {"data":{"name":"plt"},"transform":[{"filter":"datum.s=='A'"}],"mark":{"type":"point","shape":"triangle-up","filled":true,"size":14,"opacity":1},"encoding":{"x":{"field":"x","type":"quantitative"},"y":{"field":"y","type":"quantitative"},"color":{"field":"s","type":"nominal","legend":null}}},
   {"data":{"name":"plt"},"transform":[{"filter":"datum.s=='B'"}],"mark":{"type":"point","shape":"triangle-down","filled":true,"size":14,"opacity":1},"encoding":{"x":{"field":"x","type":"quantitative"},"y":{"field":"y","type":"quantitative"},"color":{"field":"s","type":"nominal","legend":null}}},
   {"data":{"name":"plt"},"transform":[{"filter":"datum.s=='D'"}],"mark":{"type":"point","shape":"square","filled":true,"size":14,"opacity":1},"encoding":{"x":{"field":"x","type":"quantitative"},"y":{"field":"y","type":"quantitative"},"color":{"field":"s","type":"nominal","legend":null}}},
   {"data":{"name":"plt"},"transform":[{"filter":"datum.s=='C'"}],"mark":{"type":"point","shape":"circle","filled":true,"size":14,"opacity":1},"encoding":{"x":{"field":"x","type":"quantitative"},"y":{"field":"y","type":"quantitative"},"color":{"field":"s","type":"nominal","legend":null}}},
   {"data":{"values":[{"v":530},{"v":260}]},"mark":{"type":"rule","strokeDash":[4,3],"color":"#000","strokeWidth":1.2},"encoding":{"y":{"field":"v","type":"quantitative"}}},
   {"data":{"values":[{}]},"mark":{"type":"text","text":"C","fontSize":16,"font":"Liberation Sans","align":"left","baseline":"middle"},"encoding":{"x":{"datum":-33.6},"y":{"datum":664}}}
  ]}
 ],"spacing":57,"bounds":"flush"},
{"hconcat":[
 {"width":188,"height":122,"title":{"text":"CD4+ T cells","offset":-22},
  "layer":[
   {"data":{"name":"cd4"},"mark":{"type":"line","strokeWidth":1.3},
    "encoding":{"x":{"field":"x","type":"quantitative","scale":{"domain":[-12,100],"nice":false,"zero":false},"axis":{"values":[0,20,40,60,80,100],"tickCount":20,"title":"Time Point"}},
     "y":{"field":"y","type":"quantitative","scale":{"domain":[0,1000,1000.1,4000],"range":[122,38,28,0],"nice":false,"zero":false},"axis":{"values":[0,200,400,600,800,1000,1000.1,2000,3000,4000],"tickCount":20,"labelExpr":"format(round(datum.value),'d')","title":"CD4+ T cells/uL"}},
     "color":{"field":"s","type":"nominal","legend":{"labelExpr":"datum.label=='A'?'Treg-CyA recipients (A)':datum.label=='B'?'Control-CyA recipients (B)':datum.label=='C'?'Treg-rapamycin recipients (C)':'Control-rapamycin recipients (D)'"}}}},
   {"data":{"name":"cd4"},"transform":[{"filter":"datum.s=='A'"}],"mark":{"type":"point","shape":"triangle-up","filled":true,"size":14,"opacity":1},"encoding":{"x":{"field":"x","type":"quantitative"},"y":{"field":"y","type":"quantitative"},"color":{"field":"s","type":"nominal","legend":null}}},
   {"data":{"name":"cd4"},"transform":[{"filter":"datum.s=='B'"}],"mark":{"type":"point","shape":"triangle-down","filled":true,"size":14,"opacity":1},"encoding":{"x":{"field":"x","type":"quantitative"},"y":{"field":"y","type":"quantitative"},"color":{"field":"s","type":"nominal","legend":null}}},
   {"data":{"name":"cd4"},"transform":[{"filter":"datum.s=='D'"}],"mark":{"type":"point","shape":"square","filled":true,"size":14,"opacity":1},"encoding":{"x":{"field":"x","type":"quantitative"},"y":{"field":"y","type":"quantitative"},"color":{"field":"s","type":"nominal","legend":null}}},
   {"data":{"name":"cd4"},"transform":[{"filter":"datum.s=='C'"}],"mark":{"type":"point","shape":"circle","filled":true,"size":14,"opacity":1},"encoding":{"x":{"field":"x","type":"quantitative"},"y":{"field":"y","type":"quantitative"},"color":{"field":"s","type":"nominal","legend":null}}},
   {"data":{"values":[{"v":3900},{"v":500}]},"mark":{"type":"rule","strokeDash":[4,3],"color":"#000","strokeWidth":1.2},"encoding":{"y":{"field":"v","type":"quantitative"}}},
   {"data":{"values":[{}]},"mark":{"type":"text","text":"D","fontSize":16,"font":"Liberation Sans","align":"left","baseline":"middle"},"encoding":{"x":{"datum":-34.6},"y":{"datum":6070}}}
  ]},
 {"hconcat":[
  {"width":176,"height":122,"title":{"text":"CD8+ T cells","offset":-22},
   "layer":[
    {"data":{"name":"cd8"},"mark":{"type":"line","strokeWidth":1.3},
     "encoding":{"x":{"field":"x","type":"quantitative","scale":{"domain":[-5,100],"nice":false,"zero":false},"axis":{"values":[0,20,40,60,80,100],"tickCount":20,"title":"Time Point"}},
      "y":{"field":"y","type":"quantitative","scale":{"domain":[0,1000,1000.1,4000],"range":[122,38,28,0],"nice":false,"zero":false},"axis":{"values":[0,200,400,600,800,1000,1000.1,2000,3000,4000],"tickCount":20,"labelExpr":"format(round(datum.value),'d')","title":"CD8+ T cells/uL"}},
      "color":{"field":"s","type":"nominal","legend":{"labelExpr":"datum.label=='A'?'Treg-CyA recipients (A)':datum.label=='B'?'Control-CyA recipients (B)':datum.label=='C'?'Treg-rapamycin recipients (C)':'Control-rapamycin recipients (D)'"}}}},
    {"data":{"name":"cd8"},"transform":[{"filter":"datum.s=='A'"}],"mark":{"type":"point","shape":"triangle-up","filled":true,"size":14,"opacity":1},"encoding":{"x":{"field":"x","type":"quantitative"},"y":{"field":"y","type":"quantitative"},"color":{"field":"s","type":"nominal","legend":null}}},
    {"data":{"name":"cd8"},"transform":[{"filter":"datum.s=='B'"}],"mark":{"type":"point","shape":"triangle-down","filled":true,"size":14,"opacity":1},"encoding":{"x":{"field":"x","type":"quantitative"},"y":{"field":"y","type":"quantitative"},"color":{"field":"s","type":"nominal","legend":null}}},
    {"data":{"name":"cd8"},"transform":[{"filter":"datum.s=='D'"}],"mark":{"type":"point","shape":"square","filled":true,"size":14,"opacity":1},"encoding":{"x":{"field":"x","type":"quantitative"},"y":{"field":"y","type":"quantitative"},"color":{"field":"s","type":"nominal","legend":null}}},
    {"data":{"name":"cd8"},"transform":[{"filter":"datum.s=='C'"}],"mark":{"type":"point","shape":"circle","filled":true,"size":14,"opacity":1},"encoding":{"x":{"field":"x","type":"quantitative"},"y":{"field":"y","type":"quantitative"},"color":{"field":"s","type":"nominal","legend":null}}},
    {"data":{"values":[{"v":3400},{"v":400}]},"mark":{"type":"rule","strokeDash":[4,3],"color":"#000","strokeWidth":1.2},"encoding":{"y":{"field":"v","type":"quantitative"}}},
    {"data":{"values":[{}]},"mark":{"type":"text","text":"E","fontSize":16,"font":"Liberation Sans","align":"left","baseline":"middle"},"encoding":{"x":{"datum":-34.2},"y":{"datum":5860}}}
   ]},
  {"width":188,"height":122,"title":{"text":"NK Cells","offset":-22},
   "layer":[
    {"data":{"name":"nk"},"mark":{"type":"line","strokeWidth":1.3},
     "encoding":{"x":{"field":"x","type":"quantitative","scale":{"domain":[-12,100],"nice":false,"zero":false},"axis":{"values":[0,20,40,60,80,100],"tickCount":20,"title":"Time Point"}},
      "y":{"field":"y","type":"quantitative","scale":{"domain":[0,1000,1000.1,4000],"range":[122,38,28,0],"nice":false,"zero":false},"axis":{"values":[0,200,400,600,800,1000,1000.1,2000,3000,4000],"tickCount":20,"labelExpr":"format(round(datum.value),'d')","title":"NK Cells/uL"}},
      "color":{"field":"s","type":"nominal","legend":{"labelExpr":"datum.label=='A'?'Treg-CyA recipients (A)':datum.label=='B'?'Control-CyA recipients (B)':datum.label=='C'?'Treg-rapamycin recipients (C)':'Control-rapamycin recipients (D)'"}}}},
    {"data":{"name":"nk"},"transform":[{"filter":"datum.s=='D'"}],"mark":{"type":"point","shape":"square","filled":true,"size":14,"opacity":1},"encoding":{"x":{"field":"x","type":"quantitative"},"y":{"field":"y","type":"quantitative"},"color":{"field":"s","type":"nominal","legend":null}}},
    {"data":{"name":"nk"},"transform":[{"filter":"datum.s=='C'"}],"mark":{"type":"point","shape":"circle","filled":true,"size":14,"opacity":1},"encoding":{"x":{"field":"x","type":"quantitative"},"y":{"field":"y","type":"quantitative"},"color":{"field":"s","type":"nominal","legend":null}}},
    {"data":{"values":[{"v":3000},{"v":100}]},"mark":{"type":"rule","strokeDash":[4,3],"color":"#000","strokeWidth":1.2},"encoding":{"y":{"field":"v","type":"quantitative"}}},
    {"data":{"values":[{}]},"mark":{"type":"text","text":"F","fontSize":16,"font":"Liberation Sans","align":"left","baseline":"middle"},"encoding":{"x":{"datum":-33.4},"y":{"datum":5960}}}
   ]}
 ],"spacing":52,"bounds":"flush"}
 ],"spacing":67,"bounds":"flush"}
],
"spacing":220,
"bounds":"flush"
}
